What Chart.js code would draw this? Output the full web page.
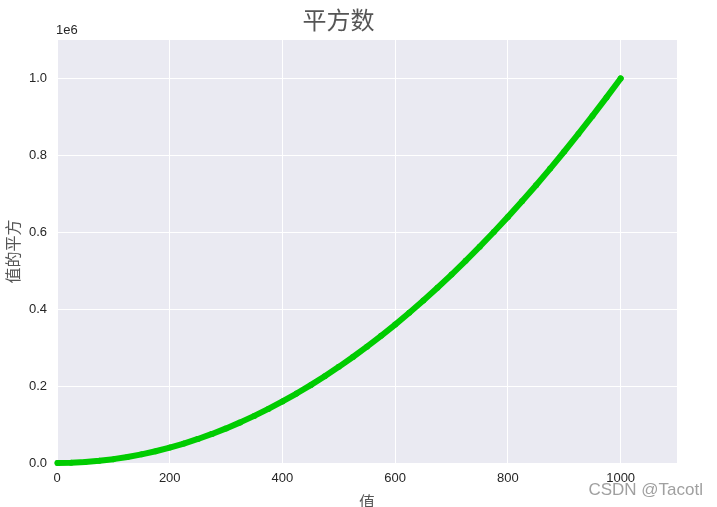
<!DOCTYPE html>
<html lang="zh">
  <head>
    <meta charset="UTF-8" />
    <title>平方数</title>
    <script src="https://cdn.jsdelivr.net/npm/chart.js@4"></script>
    <style>
      body {
        margin: 0;
        background: #ffffff;
      }
      #wrap {
        width: 717px;
        height: 507px;
      }
    </style>
  </head>
  <body>
    <div id="wrap">
      <canvas id="chart" width="717" height="507"></canvas>
    </div>

    <script>
      // values (y is roughly x squared)
      const xValues = [1, 25, 50, 75, 100, 125, 150, 175, 200, 225, 250, 275, 300, 325, 350, 375, 400, 425, 450, 475, 500,
        525, 550, 575, 600, 625, 650, 675, 700, 725, 750, 775, 800, 825, 850, 875, 900, 925, 950, 975, 1000];
      const yValues = [1, 625, 2500, 5625, 10000, 15625, 22500, 30625, 40000, 50625, 62500, 75625, 90000, 105625, 122500,
        140625, 160000, 180625, 202500, 225625, 250000, 275625, 302500, 330625, 360000, 390625, 422500, 455625, 490000,
        525625, 562500, 600625, 640000, 680625, 722500, 765625, 810000, 855625, 902500, 950625, 1000000];

      const xTicks = [0, 200, 400, 600, 800, 1000];
      const yTicks = [0, 0.2, 0.4, 0.6, 0.8, 1.0];
      const yScaleLabel = "1e6";

      const titleText = "平方数";
      const xLabel = "值";
      const yLabel = "值的平方";
      const watermark = "CSDN @Tacotl";

      const points = xValues.map((x, i) => ({ x: x, y: yValues[i] }));

      // seaborn-like grey panel and the extra texts
      const decor = {
        id: "decor",
        beforeDraw(chart) {
          const { ctx, chartArea } = chart;
          ctx.save();
          ctx.fillStyle = "#EAEAF2";
          ctx.fillRect(chartArea.left, chartArea.top, chartArea.right - chartArea.left, chartArea.bottom - chartArea.top);
          ctx.restore();
        },
        afterDraw(chart) {
          const { ctx, chartArea } = chart;
          ctx.save();
          ctx.font = "13px 'Liberation Sans', Arial, sans-serif";
          ctx.fillStyle = "#262626";
          ctx.textBaseline = "bottom";
          ctx.textAlign = "left";
          ctx.fillText(yScaleLabel, chartArea.left - 1, chartArea.top - 3);

          ctx.font = "17px 'Liberation Sans', Arial, sans-serif";
          ctx.fillStyle = "#a0a0a0";
          ctx.textAlign = "right";
          ctx.textBaseline = "middle";
          ctx.fillText(watermark, 703, 490);
          ctx.restore();
        },
      };

      const tickFont = { family: "'Liberation Sans', Arial, sans-serif", size: 13 };
      const labelFont = { family: "'Noto Sans CJK SC', sans-serif", size: 16 };

      const config = {
        type: "scatter",
        data: {
          datasets: [
            {
              data: points,
              showLine: true,
              borderColor: "#00CC00",
              backgroundColor: "#00CC00",
              borderWidth: 6,
              borderCapStyle: "round",
              borderJoinStyle: "round",
              pointRadius: 3,
              pointBorderWidth: 0,
              clip: false,
            },
          ],
        },
        options: {
          responsive: false,
          animation: false,
          layout: { padding: { left: 0, right: 40, top: 0, bottom: 0 } },
          plugins: {
            legend: { display: false },
            tooltip: { enabled: false },
            title: {
              display: true,
              text: titleText,
              color: "#555555",
              font: { family: "'Noto Sans CJK SC', sans-serif", size: 24, weight: "normal", lineHeight: 1.2 },
              padding: { top: 5, bottom: 6.2 },
            },
          },
          scales: {
            x: {
              type: "linear",
              min: 0,
              max: 1100,
              afterBuildTicks(scale) {
                scale.ticks = xTicks.map((v) => ({ value: v }));
              },
              afterFit(scale) {
                scale.height = 44;
              },
              grid: { color: "#ffffff", lineWidth: 1, drawTicks: false },
              border: { display: false },
              ticks: { color: "#262626", font: tickFont, padding: 8, maxRotation: 0, callback: (v) => String(v) },
              title: {
                display: true,
                text: xLabel,
                color: "#555555",
                font: { family: "'Noto Sans CJK SC', sans-serif", size: 16, lineHeight: 0.6 },
                padding: { top: 0, bottom: 0 },
              },
            },
            y: {
              type: "linear",
              min: 0,
              max: 1100000,
              afterBuildTicks(scale) {
                scale.ticks = yTicks.map((v) => ({ value: v * 1e6 }));
              },
              afterFit(scale) {
                scale.width = 57;
              },
              grid: { color: "#ffffff", lineWidth: 1, drawTicks: false },
              border: { display: false },
              ticks: {
                color: "#262626",
                font: tickFont,
                padding: 10,
                callback: (v) => (v / 1e6).toFixed(1),
              },
              title: { display: true, text: yLabel, color: "#555555", font: labelFont, padding: { top: 3, bottom: 0 } },
            },
          },
        },
        plugins: [decor],
      };

      const chart = new Chart(document.getElementById("chart"), config);
    </script>
  </body>
</html>
